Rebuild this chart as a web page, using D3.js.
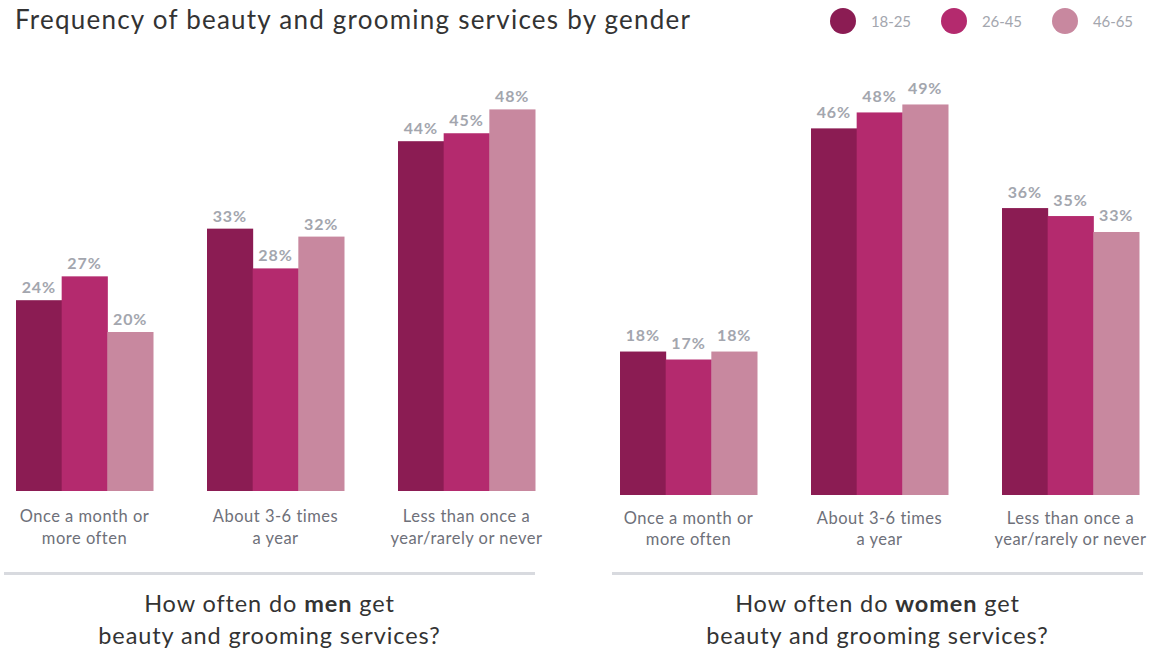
<!DOCTYPE html>
<html>
<head>
<meta charset="utf-8">
<script src="https://cdn.jsdelivr.net/npm/d3@7"></script>
<style>
  html, body { margin: 0; padding: 0; background: #fff; }
  svg { display: block; font-family: Lato, "Open Sans", sans-serif; }
</style>
</head>
<body>
<svg id="chart" width="1165" height="652"></svg>
<script>
// Answer categories (split into two display lines each)
const categoryLines = [
  ["Once a month or", "more often"],
  ["About 3-6 times", "a year"],
  ["Less than once a", "year/rarely or never"]
];
const categories = categoryLines.map(l => l.join(" "));
const ageGroups = ["18-25", "26-45", "46-65"];
const groupColors = ["#8b1c53", "#b42a6e", "#c8889f"];

// Share of respondents (%) per category, ordered by age group
const menValues = [[24, 27, 20], [33, 28, 32], [44, 45, 48]];
const womenValues = [[18, 17, 18], [46, 48, 49], [36, 35, 33]];

const svg = d3.select("#chart");

// Spread a text's letters so that it spans the given width
function spreadTo(sel, width) {
  sel.each(function () {
    const n = this.textContent.length;
    const len = this.getComputedTextLength();
    if (n > 1) d3.select(this).attr("letter-spacing", (width - len) / (n - 1));
  });
}

// Title
svg.append("text")
  .attr("x", 15).attr("y", 29)
  .attr("font-size", 26)
  .attr("fill", "#333")
  .text("Frequency of beauty and grooming services by gender")
  .call(spreadTo, 675);

// Legend
const colorScale = d3.scaleOrdinal().domain(ageGroups).range(groupColors);
const legendX = d3.scalePoint().domain(ageGroups).range([843, 1065]);
const legend = svg.append("g").selectAll("g").data(ageGroups).join("g")
  .attr("transform", d => `translate(${legendX(d)},21)`);
legend.append("circle").attr("r", 13).attr("fill", d => colorScale(d));
legend.append("text")
  .attr("x", 28).attr("y", 6)
  .attr("font-size", 15).attr("fill", "#a3a6ae")
  .text(d => d)
  .call(spreadTo, 40);

function drawPanel(values, opts) {
  const g = svg.append("g");
  const x0 = d3.scaleBand().domain(categories).range(opts.xRange).paddingInner(0.2827).paddingOuter(0);
  const x1 = d3.scaleBand().domain(ageGroups).range([0, x0.bandwidth()]).padding(0);
  const y = d3.scaleLinear().domain([0, 50]).range([opts.baseline, opts.baseline - 50 * opts.pxPerPct]);

  const groups = g.selectAll("g.cat").data(categories).join("g")
    .attr("class", "cat")
    .attr("transform", d => `translate(${x0(d)},0)`);

  const bars = groups.selectAll("g.bar")
    .data((d, i) => values[i].map((v, j) => ({ age: ageGroups[j], v })))
    .join("g").attr("class", "bar");

  bars.append("rect")
    .attr("x", d => x1(d.age))
    .attr("width", x1.bandwidth() + 0.5)
    .attr("y", d => y(d.v))
    .attr("height", d => y(0) - y(d.v))
    .attr("fill", d => colorScale(d.age));

  bars.append("text")
    .attr("x", d => x1(d.age) + x1.bandwidth() / 2)
    .attr("y", d => y(d.v) - opts.labelGap)
    .attr("text-anchor", "middle")
    .attr("font-size", 16).attr("font-weight", 700)
    .attr("fill", "#a3a6ae")
    .attr("letter-spacing", 0.9)
    .text(d => d.v + "%");

  // Category labels
  const lab = groups.append("text")
    .attr("text-anchor", "middle")
    .attr("font-size", 16.5).attr("fill", "#6e7079")
    .attr("letter-spacing", 0.5);
  lab.selectAll("tspan").data((d, i) => categoryLines[i]).join("tspan")
    .attr("x", x0.bandwidth() / 2)
    .attr("y", (d, i) => opts.catY + i * 21.5)
    .text(d => d);

  // Divider
  g.append("line")
    .attr("x1", opts.rule[0]).attr("x2", opts.rule[1])
    .attr("y1", 573.5).attr("y2", 573.5)
    .attr("stroke", "#d8dadf").attr("stroke-width", 3);

  // Panel caption
  const cx = (opts.rule[0] + opts.rule[1]) / 2;
  const cap = g.append("text").attr("text-anchor", "middle")
    .attr("font-size", 23.5).attr("fill", "#333")
    .attr("letter-spacing", 0.9);
  const l1 = cap.append("tspan").attr("x", cx).attr("y", 612);
  l1.append("tspan").text("How often do ");
  l1.append("tspan").attr("font-weight", 700).text(opts.who);
  l1.append("tspan").text(" get");
  cap.append("tspan").attr("x", cx).attr("y", 644).text("beauty and grooming services?");
}

drawPanel(menValues, { xRange: [16, 535], baseline: 491, pxPerPct: 7.95, labelGap: 7, catY: 522, rule: [4, 535], who: "men" });
drawPanel(womenValues, { xRange: [620, 1139], baseline: 495, pxPerPct: 7.97, labelGap: 10.5, catY: 523.5, rule: [612, 1143], who: "women" });
</script>
</body>
</html>
